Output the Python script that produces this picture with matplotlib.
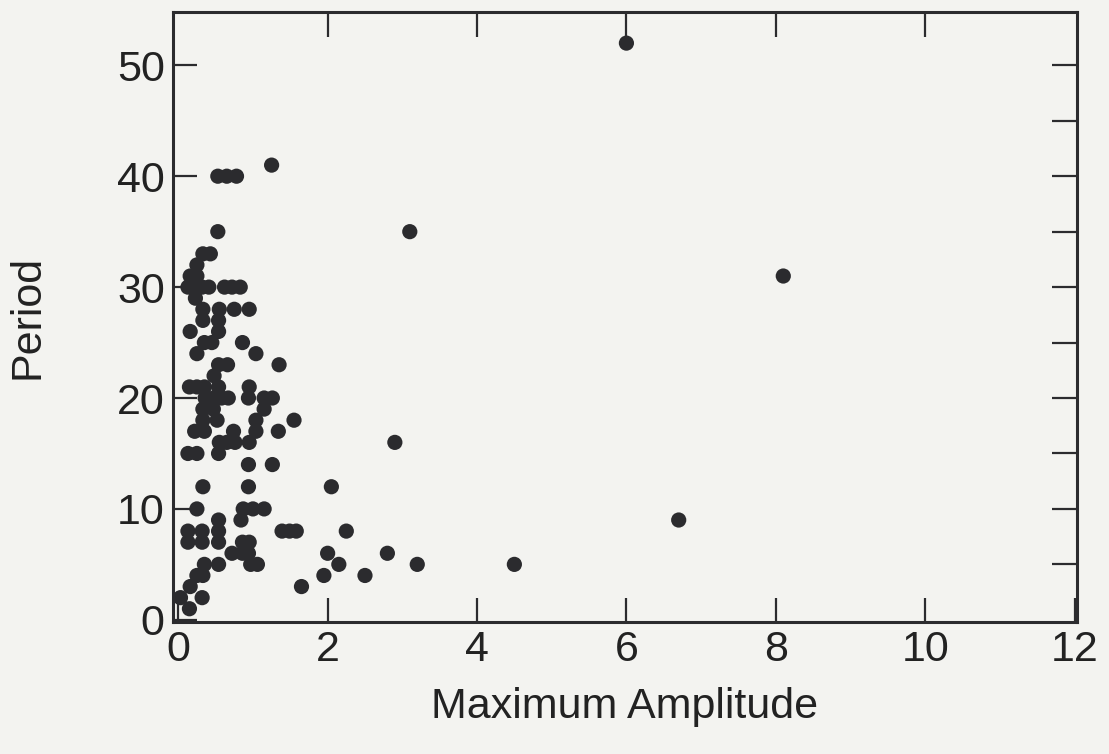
import matplotlib
matplotlib.use("Agg")
import matplotlib.pyplot as plt

# maximum amplitude vs period
amplitude = [
    6.0, 1.25, 3.1, 8.1, 2.9, 6.7, 4.5, 3.2, 2.8, 2.5, 2.15, 2.25, 2.05, 2.0, 1.95, 1.65, 1.55, 1.35,
    0.53, 0.65, 0.78,
    0.53,
    0.33, 0.43,
    0.25,
    0.16, 0.25,
    0.13, 0.23, 0.32, 0.41, 0.62, 0.72, 0.83,
    0.23,
    0.33, 0.55, 0.75, 0.95,
    0.33, 0.54,
    0.16, 0.54,
    0.35, 0.45, 0.86,
    0.25, 1.04,
    0.54, 0.66,
    0.48,
    0.15, 0.25, 0.35, 0.54, 0.95,
    0.36, 0.47, 0.58, 0.67, 0.94, 1.15, 1.26,
    0.33, 0.47, 1.15,
    0.33, 0.52, 1.04,
    0.22, 0.35, 0.74, 1.04, 1.34,
    0.55, 0.65, 0.76, 0.95,
    0.13, 0.25, 0.54,
    0.94, 1.26,
    0.33, 0.94,
    0.25, 0.87, 1.0, 1.15,
    0.54, 0.84,
    0.13, 0.32, 0.54, 1.39, 1.49, 1.58,
    0.13, 0.32, 0.54, 0.86, 0.95,
    0.72, 0.86, 0.94,
    0.35, 0.54, 0.97, 1.06,
    0.25, 0.33,
    0.16,
    0.03, 0.32,
    0.15,
]
period = [
    52, 41, 35, 31, 16, 9, 5, 5, 6, 4, 5, 8, 12, 6, 4, 3, 18, 23,
    40, 40, 40,
    35,
    33, 33,
    32,
    31, 31,
    30, 30, 30, 30, 30, 30, 30,
    29,
    28, 28, 28, 28,
    27, 27,
    26, 26,
    25, 25, 25,
    24, 24,
    23, 23,
    22,
    21, 21, 21, 21, 21,
    20, 20, 20, 20, 20, 20, 20,
    19, 19, 19,
    18, 18, 18,
    17, 17, 17, 17, 17,
    16, 16, 16, 16,
    15, 15, 15,
    14, 14,
    12, 12,
    10, 10, 10, 10,
    9, 9,
    8, 8, 8, 8, 8, 8,
    7, 7, 7, 7, 7,
    6, 6, 6,
    5, 5, 5, 5,
    4, 4,
    3,
    2, 2,
    1,
]

x_ticks = [0, 2, 4, 6, 8, 10, 12]
y_ticks = [0, 10, 20, 30, 40, 50]
top_ticks = [2, 4, 6, 8, 10]
right_ticks = [5, 10, 15, 20, 25, 30, 35, 40, 45, 50]

bg = "#f3f3f0"
ink = "#2b2b2e"

plt.rcParams["font.family"] = ["Liberation Sans", "DejaVu Sans"]

fig = plt.figure(figsize=(11.09, 7.54), dpi=100, facecolor=bg)
ax = fig.add_axes([0.156, 0.175, 0.815, 0.809], facecolor=bg)

ax.scatter(amplitude, period, s=120, color=ink, edgecolors="none", zorder=3)

ax.set_xlim(-0.07, 12.03)
ax.set_ylim(-0.2, 54.8)
ax.set_xticks(x_ticks)
ax.set_yticks(y_ticks)

for sp in ax.spines.values():
    sp.set_linewidth(2.2)
    sp.set_color(ink)

ax.tick_params(direction="in", length=17, width=1.6, colors=ink,
               labelsize=31, pad=6, labelcolor="#222222")

# top and right ticks: different spacing, no labels
top = ax.secondary_xaxis("top")
top.set_xticks(top_ticks)
top.tick_params(direction="in", length=18, width=1.6, colors=ink, labeltop=False)
top.spines["top"].set_visible(False)

right = ax.secondary_yaxis("right")
right.set_yticks(right_ticks)
right.tick_params(direction="in", length=18, width=1.6, colors=ink, labelright=False)
right.spines["right"].set_visible(False)

ax.set_xlabel("Maximum Amplitude", fontsize=31, color="#222222", labelpad=12)
ax.set_ylabel("Period", fontsize=31, color="#222222", labelpad=50)

fig.savefig("out.png", dpi=100, facecolor=bg)
